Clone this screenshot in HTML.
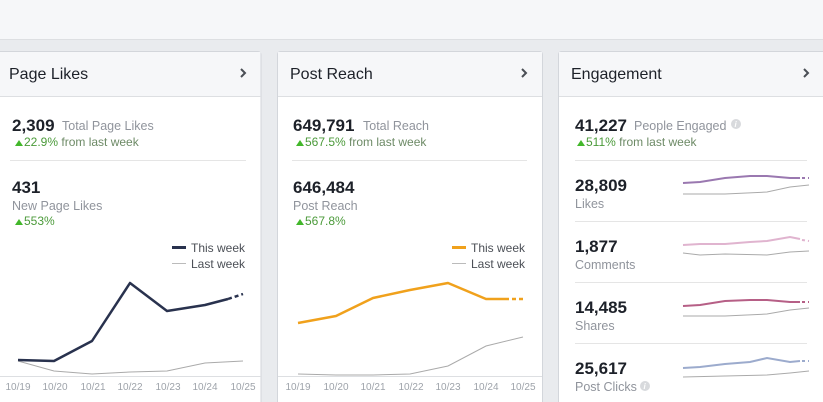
<!DOCTYPE html>
<html><head><meta charset="utf-8"><style>
html,body{margin:0;padding:0;width:823px;height:402px;overflow:hidden;background:#e9ebee}
svg{display:block;font-family:"Liberation Sans",Arial,sans-serif}
</style></head><body>
<svg width="823" height="402" viewBox="0 0 823 402" xmlns="http://www.w3.org/2000/svg">
<rect x="0" y="0" width="823" height="39" fill="#f6f7f9"/>
<line x1="0" y1="39.5" x2="823" y2="39.5" stroke="#dddfe2"/>
<!-- panels -->
<g stroke="#d3d6db" fill="#fff">
<rect x="-5" y="51.5" width="266" height="360" rx="3"/>
<rect x="277.5" y="51.5" width="265" height="360" rx="3"/>
<rect x="558.5" y="51.5" width="270" height="360" rx="3"/>
</g>
<g fill="#f6f7f9">
<rect x="-4" y="52" width="264.5" height="44"/>
<rect x="278" y="52" width="264" height="44"/>
<rect x="559" y="52" width="269" height="44"/>
</g>
<g stroke="#dddfe2"><line x1="0" y1="96.5" x2="261" y2="96.5"/><line x1="278" y1="96.5" x2="542" y2="96.5"/><line x1="559" y1="96.5" x2="823" y2="96.5"/></g>
<g font-size="16" fill="#1d2129">
<text x="9" y="79">Page Likes</text><text x="290" y="79">Post Reach</text><text x="571" y="79">Engagement</text>
</g>
<g fill="none" stroke="#4b4f56" stroke-width="2"><path d="M241 69l4 4-4 4"/><path d="M522 69l4 4-4 4"/><path d="M804 69l4 4-4 4"/></g>
<!-- dividers -->
<g stroke="#e5e5e5"><line x1="10" y1="160.5" x2="246" y2="160.5"/><line x1="292" y1="160.5" x2="527" y2="160.5"/>
<line x1="575" y1="160.5" x2="807" y2="160.5"/><line x1="575" y1="221.5" x2="807" y2="221.5"/><line x1="575" y1="282.5" x2="807" y2="282.5"/><line x1="575" y1="343.5" x2="807" y2="343.5"/></g>
<!-- panel 1 text -->
<g font-weight="bold" font-size="17" fill="#1d2129">
<text x="12" y="131">2,309</text><text x="12" y="193">431</text>
<text x="293" y="131">649,791</text><text x="293" y="193">646,484</text>
<text x="575" y="131">41,227</text>
<text x="575" y="191">28,809</text><text x="575" y="252">1,877</text><text x="575" y="313">14,485</text><text x="575" y="374">25,617</text>
</g>
<g font-size="12.5" fill="#90949c">
<text x="62" y="130">Total Page Likes</text><text x="12" y="210">New Page Likes</text>
<text x="363" y="130">Total Reach</text><text x="293" y="210">Post Reach</text>
<text x="634" y="130">People Engaged</text>
<text x="575" y="208">Likes</text><text x="575" y="269">Comments</text><text x="575" y="330">Shares</text><text x="575" y="391">Post Clicks</text>
</g>
<g fill="#d8dadd"><circle cx="736" cy="124" r="5"/><circle cx="645" cy="386" r="5"/></g>
<g fill="#fff" font-size="8" font-style="italic" font-weight="bold"><text x="734.5" y="127">i</text><text x="643.5" y="389">i</text></g>
<g font-size="12" fill="#6d8a66">
<text x="24" y="146"><tspan fill="#4b9a3a">22.9%</tspan> from last week</text><text x="24" y="225" fill="#4b9a3a">553%</text>
<text x="305" y="146"><tspan fill="#4b9a3a">567.5%</tspan> from last week</text><text x="305" y="225" fill="#4b9a3a">567.8%</text>
<text x="586" y="146"><tspan fill="#4b9a3a">511%</tspan> from last week</text>
</g>
<g fill="#42b72a"><path d="M15 146l4-6 4 6z"/><path d="M15 225l4-6 4 6z"/><path d="M296 146l4-6 4 6z"/><path d="M296 225l4-6 4 6z"/><path d="M577 146l4-6 4 6z"/></g>
<!-- legends -->
<g font-size="12" fill="#4b4f56">
<text x="191" y="252">This week</text><text x="191" y="268">Last week</text>
<text x="471" y="252">This week</text><text x="471" y="268">Last week</text>
</g>
<line x1="172" y1="247.5" x2="186" y2="247.5" stroke="#29324e" stroke-width="3"/>
<line x1="172" y1="263.5" x2="186" y2="263.5" stroke="#bbb"/>
<line x1="452" y1="247.5" x2="466" y2="247.5" stroke="#f0a11c" stroke-width="3"/>
<line x1="452" y1="263.5" x2="466" y2="263.5" stroke="#bbb"/>
<!-- axes -->
<g stroke="#dddfe2"><line x1="0" y1="376.5" x2="261" y2="376.5"/><line x1="278" y1="376.5" x2="542" y2="376.5"/></g>
<g font-size="10" fill="#9ea3aa" text-anchor="middle">
<text x="18" y="390">10/19</text><text x="55" y="390">10/20</text><text x="93" y="390">10/21</text><text x="130" y="390">10/22</text><text x="168" y="390">10/23</text><text x="205" y="390">10/24</text><text x="243" y="390">10/25</text>
<text x="298" y="390">10/19</text><text x="336" y="390">10/20</text><text x="373" y="390">10/21</text><text x="411" y="390">10/22</text><text x="448" y="390">10/23</text><text x="486" y="390">10/24</text><text x="523" y="390">10/25</text>
</g>
<!-- chart 1 -->
<polyline fill="none" stroke="#aaa" stroke-width="1" points="18,361 54,371 92,374 130,372 167,371 205,363 243,361"/>
<polyline fill="none" stroke="#29324e" stroke-width="2.5" stroke-linejoin="round" points="18,360 54,361 92,341 130,283 167,311 205,305 228,299"/>
<line x1="228" y1="299" x2="243" y2="294" stroke="#29324e" stroke-width="2.5" stroke-dasharray="4,3"/>
<!-- chart 2 -->
<polyline fill="none" stroke="#aaa" stroke-width="1" points="298,374 336,375 373,375 410,374 448,366 486,346 523,337"/>
<polyline fill="none" stroke="#f0a11c" stroke-width="2.5" stroke-linejoin="round" points="298,323 336,316 373,298 410,290 448,283 486,299 505,299"/>
<line x1="505" y1="299" x2="523" y2="299" stroke="#f0a11c" stroke-width="2.5" stroke-dasharray="4,3"/>
<!-- sparklines -->
<g fill="none" stroke-width="2">
<polyline stroke="#9a78b0" points="683,183 700,182 725,178 750,176 767,176 790,178 800,178"/>
<polyline stroke="#e0b4cf" points="683,245 700,244 725,244 750,242 767,241 790,237 800,239"/>
<polyline stroke="#b65f86" points="683,306 700,305 725,301 750,300 767,300 790,302 800,302"/>
<polyline stroke="#9cabcd" points="683,368 700,367 725,364 750,362 767,358 790,362 800,361"/>
</g>
<g stroke-width="2" fill="none" stroke-dasharray="3,3">
<line x1="802" y1="178" x2="809" y2="178" stroke="#9a78b0"/><line x1="802" y1="240" x2="809" y2="241" stroke="#e0b4cf"/>
<line x1="802" y1="302" x2="809" y2="302" stroke="#b65f86"/><line x1="802" y1="361" x2="809" y2="361" stroke="#9cabcd"/>
</g>
<g fill="none" stroke="#aaa" stroke-width="1">
<polyline points="683,194 725,194 767,192 790,187 809,185"/>
<polyline points="683,253 700,255 725,254 767,255 790,252 809,251"/>
<polyline points="683,316 725,316 767,314 790,310 809,308"/>
<polyline points="683,377 725,376 767,375 790,373 809,371"/>
</g>
</svg>
</body></html>
